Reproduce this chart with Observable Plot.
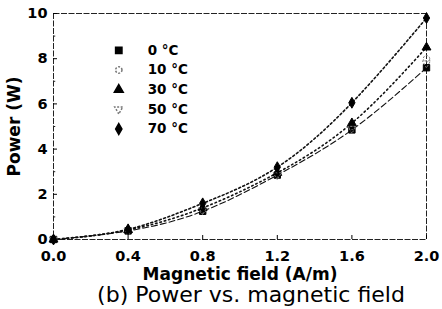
<!DOCTYPE html>
<html>
<head>
<meta charset="utf-8">
<script src="https://cdn.jsdelivr.net/npm/d3@7"></script>
<script src="https://cdn.jsdelivr.net/npm/@observablehq/plot@0.6"></script>
<style>
  body { margin: 0; background: #fff; }
  #caption { font-family: "DejaVu Sans", sans-serif; font-size: 22px; color: #000; text-align: center; width: 442px; margin-top: -3px; padding-left: 60px; box-sizing: border-box; line-height: 24px; }
</style>
</head>
<body>
<div id="chart"></div>
<div id="caption">(b) Power vs. magnetic field</div>
<script>
const field = [0, 0.4, 0.8, 1.2, 1.6, 2.0];
const seriesNames = ["0 °C", "10 °C", "30 °C", "50 °C", "70 °C"];
const p0 = [0, 0.38, 1.25, 2.85, 4.85, 7.6];
const p10 = [0, 0.40, 1.30, 2.90, 5.00, 8.0];
const p30 = [0, 0.42, 1.40, 2.95, 5.15, 8.5];
const p50 = [0, 0.40, 1.30, 2.85, 4.90, 7.8];
const p70 = [0, 0.45, 1.60, 3.20, 6.05, 9.8];
const xTicks = [0, 0.4, 0.8, 1.2, 1.6, 2.0];
const yTicks = [0, 2, 4, 6, 8, 10];
const yMinor = [1, 3, 5, 7, 9];

const allSeries = [p0, p10, p30, p50, p70];
const symbols = ["square", "circle", "triangle", "triangle", "diamond"];
const fills = ["black", "none", "black", "none", "black"];
const rotates = [0, 0, 0, 180, 0];
const radii = [3.6, 3.2, 3.3, 3.0, 3.3];
const dashes = ["6,3", null, "1.5,3", null, "2,2.5"];
const withLine = [true, false, true, false, true];

const rows = [];
allSeries.forEach((vals, s) => field.forEach((b, i) => rows.push({B: b, P: vals[i], s})));

const legend = seriesNames.map((name, i) => ({name, i, y: 8.37 - i * 0.87}));

const marks = [
  Plot.frame({stroke: "#222", strokeWidth: 1, strokeDasharray: "6,1.5"}),
  Plot.axisX({ticks: xTicks, tickFormat: d => d.toFixed(1), tickSize: -4, tickPadding: 15,
    fontSize: 14.5, fontWeight: "bold", fontFamily: "DejaVu Sans", label: null}),
  Plot.axisX({ticks: [], label: "Magnetic field (A/m)", fontSize: 17, fontWeight: "bold", dx: 11,
    fontFamily: "DejaVu Sans", labelAnchor: "center", labelArrow: "none", labelOffset: 40}),
  Plot.axisY({ticks: yTicks, tickSize: -4, tickPadding: 10, fontSize: 14.5, fontWeight: "bold",
    fontFamily: "DejaVu Sans", label: null}),
  Plot.axisY({ticks: [], label: "Power (W)", fontSize: 17, fontWeight: "bold", dy: -4,
    fontFamily: "DejaVu Sans", labelAnchor: "center", labelArrow: "none", labelOffset: 46}),
  Plot.ruleY(yMinor, {y: d => d, x1: 0, x2: 0.012, stroke: "#222"}),
];
allSeries.forEach((vals, s) => {
  if (withLine[s]) {
    marks.push(Plot.line(rows.filter(r => r.s === s), {x: "B", y: "P", curve: "natural",
      stroke: "#111", strokeWidth: s === 0 ? 1.1 : 1.6, strokeDasharray: dashes[s]}));
  }
});
allSeries.forEach((vals, s) => {
  marks.push(Plot.dot(rows.filter(r => r.s === s), {x: "B", y: "P", symbol: symbols[s],
    r: radii[s], fill: fills[s], stroke: fills[s] === "none" ? "#777" : "black",
    strokeWidth: 1, strokeDasharray: fills[s] === "none" ? "2,1.5" : null, rotate: rotates[s]}));
});
legend.forEach(l => {
  marks.push(Plot.dot([l], {x: 0.35, y: "y", symbol: symbols[l.i], r: radii[l.i], fill: fills[l.i],
    stroke: fills[l.i] === "none" ? "#777" : "black", strokeDasharray: fills[l.i] === "none" ? "2,1.5" : null,
    rotate: rotates[l.i]}));
  marks.push(Plot.text([l], {x: 0.505, y: "y", text: "name", textAnchor: "start", fontSize: 13.5,
    fontWeight: "bold", fontFamily: "DejaVu Sans", fill: "black"}));
});

const chart = Plot.plot({
  width: 442,
  height: 286,
  marginLeft: 53,
  marginRight: 16,
  marginTop: 13,
  marginBottom: 47,
  x: {domain: [0, 2]},
  y: {domain: [0, 10]},
  style: {fontFamily: "DejaVu Sans", color: "black", background: "white", fontSize: "15px", fontWeight: "bold", overflow: "visible"},
  marks
});
document.getElementById("chart").appendChild(chart);
</script>
</body>
</html>
